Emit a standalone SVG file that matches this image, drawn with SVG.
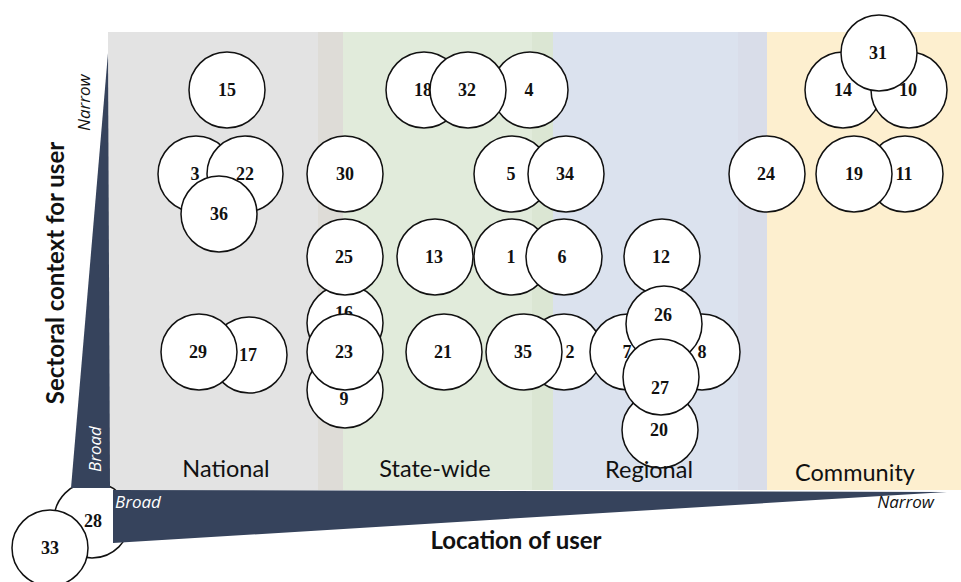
<svg xmlns="http://www.w3.org/2000/svg" width="961" height="582" viewBox="0 0 961 582">
<style>
.n circle{fill:#fff;stroke:#111;stroke-width:1.5}
.n text{font-family:"Liberation Serif","Times New Roman",serif;font-weight:bold;font-size:18px;text-anchor:middle;fill:#111}
.band{font-family:Lato,"Noto Sans",sans-serif;font-size:23.5px;text-anchor:middle;fill:#111}
.axis{font-family:Lato,"Noto Sans",sans-serif;font-size:24px;font-weight:bold;text-anchor:middle;fill:#111}
.it{font-family:"Open Sans","Noto Sans",sans-serif;font-style:italic;font-size:17px}
.wedge{fill:#36435c}
</style>
<g id="background">
<rect x="108" y="32" width="210" height="458" fill="#e3e3e3"/>
<rect x="318" y="32" width="25" height="458" fill="#dedcd7"/>
<rect x="343" y="32" width="189" height="458" fill="#e1ebdb"/>
<rect x="532" y="32" width="21" height="458" fill="#dbe6d3"/>
<rect x="553" y="32" width="185" height="458" fill="#dbe2ee"/>
<rect x="738" y="32" width="29" height="458" fill="#d9dde9"/>
<rect x="767" y="32" width="194" height="458" fill="#fdefcf"/>
</g>
<g id="node-28" class="n"><circle cx="92" cy="520" r="38"/><text x="93" y="527">28</text></g>
<g id="axes">
<polygon class="wedge" points="108,53 110,488 71,488"/>
<polygon class="wedge" points="113,490 947,492 113,543"/>
</g>
<g id="connectors"/>
<g id="node-33" class="n"><circle cx="50" cy="548" r="38"/><text x="50" y="554">33</text></g>
<g id="node-15" class="n"><circle cx="227" cy="90" r="38"/><text x="227" y="96">15</text></g>
<g id="node-3" class="n"><circle cx="196" cy="174" r="38"/><text x="195" y="180">3</text></g>
<g id="node-22" class="n"><circle cx="245" cy="174" r="38"/><text x="245" y="180">22</text></g>
<g id="node-36" class="n"><circle cx="219" cy="214" r="38"/><text x="219" y="220">36</text></g>
<g id="node-30" class="n"><circle cx="345" cy="174" r="38"/><text x="345" y="180">30</text></g>
<g id="node-18" class="n"><circle cx="424" cy="90" r="38"/><text x="423" y="96">18</text></g>
<g id="node-4" class="n"><circle cx="530" cy="90" r="38"/><text x="529" y="96">4</text></g>
<g id="node-32" class="n"><circle cx="468" cy="90" r="38"/><text x="467" y="96">32</text></g>
<g id="node-5" class="n"><circle cx="512" cy="174" r="38"/><text x="511" y="180">5</text></g>
<g id="node-34" class="n"><circle cx="566" cy="174" r="38"/><text x="565" y="180">34</text></g>
<g id="node-24" class="n"><circle cx="767" cy="174" r="38"/><text x="766" y="180">24</text></g>
<g id="node-11" class="n"><circle cx="905" cy="174" r="38"/><text x="904" y="180">11</text></g>
<g id="node-19" class="n"><circle cx="854" cy="174" r="38"/><text x="854" y="180">19</text></g>
<g id="node-14" class="n"><circle cx="843" cy="90" r="38"/><text x="843" y="96">14</text></g>
<g id="node-10" class="n"><circle cx="909" cy="90" r="38"/><text x="908" y="96">10</text></g>
<g id="node-31" class="n"><circle cx="879" cy="53" r="38"/><text x="878" y="59">31</text></g>
<g id="node-9" class="n"><circle cx="345" cy="390" r="38"/><text x="344" y="405">9</text></g>
<g id="node-16" class="n"><circle cx="345" cy="323" r="38"/><text x="344" y="319">16</text></g>
<g id="node-25" class="n"><circle cx="345" cy="257" r="38"/><text x="344" y="263">25</text></g>
<g id="node-23" class="n"><circle cx="345" cy="352" r="38"/><text x="344" y="358">23</text></g>
<g id="node-13" class="n"><circle cx="435" cy="257" r="38"/><text x="434" y="263">13</text></g>
<g id="node-1" class="n"><circle cx="512" cy="257" r="38"/><text x="511" y="263">1</text></g>
<g id="node-6" class="n"><circle cx="564" cy="257" r="38"/><text x="562" y="263">6</text></g>
<g id="node-21" class="n"><circle cx="444" cy="352" r="38"/><text x="443" y="358">21</text></g>
<g id="node-2" class="n"><circle cx="564" cy="352" r="38"/><text x="570" y="358">2</text></g>
<g id="node-35" class="n"><circle cx="524" cy="352" r="38"/><text x="523" y="358">35</text></g>
<g id="node-7" class="n"><circle cx="628" cy="352" r="38"/><text x="627" y="358">7</text></g>
<g id="node-8" class="n"><circle cx="702" cy="352" r="38"/><text x="702" y="358">8</text></g>
<g id="node-12" class="n"><circle cx="662" cy="257" r="38"/><text x="661" y="263">12</text></g>
<g id="node-20" class="n"><circle cx="660" cy="430" r="38"/><text x="659" y="436">20</text></g>
<g id="node-26" class="n"><circle cx="664" cy="324" r="38"/><text x="663" y="321">26</text></g>
<g id="node-27" class="n"><circle cx="661" cy="377" r="38"/><text x="660" y="394">27</text></g>
<g id="node-17" class="n"><circle cx="249" cy="355" r="38"/><text x="248" y="361">17</text></g>
<g id="node-29" class="n"><circle cx="199" cy="352" r="38"/><text x="198" y="358">29</text></g>
<g id="labels">
<text class="band" x="226" y="477">National</text>
<text class="band" x="435" y="477">State-wide</text>
<text class="band" x="649" y="478">Regional</text>
<text class="band" x="855" y="481">Community</text>
<text class="axis" x="516" y="549">Location of user</text>
<text class="axis" transform="translate(64,273) rotate(-90)">Sectoral context for user</text>
<text class="it" x="115" y="508" fill="#fff">Broad</text>
<text class="it" x="934" y="508" fill="#111" text-anchor="end">Narrow</text>
<text class="it" fill="#111" transform="translate(90,131) rotate(-90)">Narrow</text>
<text class="it" fill="#fff" transform="translate(101,472) rotate(-90)">Broad</text>
</g>
</svg>
